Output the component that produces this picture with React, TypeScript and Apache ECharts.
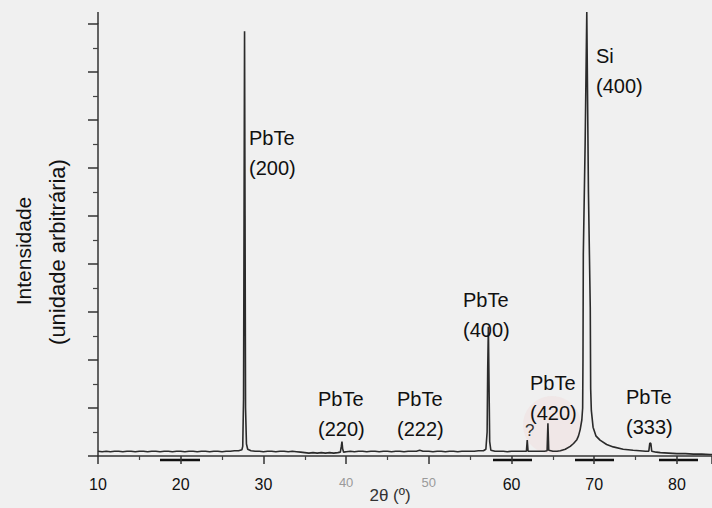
import React, { useEffect, useRef } from "react";
import * as echarts from "echarts";

// 2θ (degrees) and intensity (arbitrary units, 1 unit = one major y tick)
const theta = [
  10, 10.5, 11, 11.5, 12, 12.5, 13, 13.5, 14, 14.5, 15, 15.5, 16, 16.5, 17, 17.5, 18, 18.5, 19, 19.5,
  20, 20.5, 21, 21.5, 22, 22.5, 23, 23.5, 24, 24.5, 25, 25.5, 26, 26.5, 27, 27.4,
  27.5, 27.6, 27.66, 27.72, 27.78, 27.84, 27.95, 28.1, 28.5,
  29, 29.5, 30, 30.5, 31, 31.5, 32, 32.5, 33, 33.5, 34, 34.5, 35, 35.5, 36, 36.5, 37, 37.5, 38, 38.5, 39,
  39.3, 39.42, 39.5, 39.58, 39.7,
  40, 40.5, 41, 41.5, 42, 42.5, 43, 43.5, 44, 44.5, 45, 45.5, 46, 46.5, 47, 47.5, 48, 48.5, 48.9, 49.3,
  50, 50.5, 51, 51.5, 52, 52.5, 53, 53.5, 54, 54.5, 55, 55.5, 56, 56.6, 56.9,
  57.05, 57.12, 57.2, 57.28, 57.36, 57.5, 58,
  58.5, 59, 59.5, 60, 60.5, 61, 61.5, 61.8, 61.9, 62.0, 62.5, 63, 63.5, 64, 64.3, 64.4, 64.5,
  65, 65.5, 65.9, 66.5, 67.1, 67.5, 67.9, 68.1, 68.3, 68.5, 68.6, 68.64, 68.68, 68.9, 69.1, 69.3, 69.52,
  69.57, 69.65, 69.86, 70.2, 70.7, 71.5, 72.3, 73.5, 74.7, 75.5, 76.2,
  76.6, 76.72, 76.85, 76.95, 77.5, 78, 79, 80, 81, 82, 83, 84, 84.24,
];

const intensity = [
  0.1, 0.09, 0.1, 0.09, 0.1, 0.1, 0.09, 0.1, 0.1, 0.09, 0.1, 0.1, 0.09, 0.1, 0.1, 0.09, 0.1, 0.1, 0.09, 0.1,
  0.1, 0.09, 0.1, 0.1, 0.09, 0.1, 0.1, 0.09, 0.1, 0.1, 0.09, 0.1, 0.1, 0.11, 0.11, 0.13,
  0.2, 1.2, 5.0, 8.85, 5.0, 1.0, 0.25, 0.14, 0.11,
  0.1, 0.1, 0.09, 0.1, 0.1, 0.09, 0.1, 0.1, 0.09, 0.1, 0.09, 0.08, 0.07, 0.06, 0.07, 0.06, 0.07, 0.06, 0.07, 0.06, 0.07,
  0.08, 0.2, 0.3, 0.15, 0.08,
  0.09, 0.1, 0.09, 0.1, 0.1, 0.09, 0.1, 0.1, 0.09, 0.1, 0.1, 0.09, 0.1, 0.1, 0.09, 0.1, 0.1, 0.1, 0.12, 0.1,
  0.1, 0.09, 0.1, 0.1, 0.09, 0.1, 0.1, 0.09, 0.1, 0.1, 0.1, 0.1, 0.11, 0.11, 0.14,
  0.5, 1.8, 2.69, 1.5, 0.3, 0.12, 0.1,
  0.1, 0.1, 0.09, 0.1, 0.1, 0.1, 0.1, 0.1, 0.33, 0.1, 0.1, 0.1, 0.1, 0.1, 0.11, 0.68, 0.12,
  0.1, 0.1, 0.11, 0.14, 0.2, 0.26, 0.34, 0.42, 0.55, 0.75, 1.0, 2.0, 4.2, 6.5, 9.25, 5.5, 3.1,
  1.4, 0.95, 0.6, 0.42, 0.33, 0.24, 0.19, 0.14, 0.12, 0.11, 0.1,
  0.1, 0.27, 0.26, 0.1, 0.08, 0.07, 0.06, 0.05, 0.05, 0.04, 0.04, 0.03, 0.03,
];

const xTickLabels = ["10", "20", "30", "40", "50", "60", "70", "80"];
const fadedLabels = ["40", "50"];

const annotations = [
  { text: "PbTe\n(200)", x: 249, y: 123 },
  { text: "Si\n(400)", x: 596, y: 41 },
  { text: "PbTe\n(400)", x: 463, y: 285 },
  { text: "PbTe\n(220)", x: 318, y: 384 },
  { text: "PbTe\n(222)", x: 397, y: 384 },
  { text: "PbTe\n(420)", x: 530, y: 368 },
  { text: "PbTe\n(333)", x: 626, y: 382 },
];

const FONT = '"Liberation Sans", Arial, Helvetica, sans-serif';

export default function App() {
  const ref = useRef<HTMLDivElement>(null);

  useEffect(() => {
    document.body.style.margin = "0";
    const chart = echarts.init(ref.current!, undefined, { renderer: "svg" });
    const data = theta.map((t, i) => [t, intensity[i]]);

    chart.setOption({
      animation: false,
      backgroundColor: "#f0f0f0",
      grid: { left: 98, right: 0, top: 24, bottom: 52 },
      xAxis: {
        type: "value",
        min: 10,
        max: 84.24,
        interval: 10,
        axisLine: { show: true, lineStyle: { color: "#333", width: 1.5 } },
        axisTick: { show: true, length: 8, lineStyle: { color: "#333", width: 1.5 } },
        minorTick: { show: true, splitNumber: 2, length: 4, lineStyle: { color: "#444", width: 1.2 } },
        splitLine: { show: false },
        axisLabel: {
          margin: 20,
          color: "#111",
          fontSize: 16,
          fontFamily: FONT,
          showMaxLabel: false,
          formatter: (v: number) => {
            const s = String(v);
            if (!xTickLabels.includes(s)) return "";
            return fadedLabels.includes(s) ? `{f|${s}}` : s;
          },
          rich: {
            f: { color: "#9a9a9a", fontSize: 13, fontFamily: FONT, padding: [0, 0, 10, 0] },
          },
        },
      },
      yAxis: {
        type: "value",
        min: 0,
        max: 9,
        interval: 1,
        axisLine: { show: true, lineStyle: { color: "#333", width: 1.5 } },
        axisTick: { show: true, length: 10, lineStyle: { color: "#333", width: 1.5 } },
        minorTick: { show: true, splitNumber: 2, length: 5, lineStyle: { color: "#444", width: 1.2 } },
        splitLine: { show: false },
        axisLabel: { show: false },
      },
      series: [
        {
          type: "line",
          data,
          showSymbol: false,
          clip: false,
          z: 3,
          lineStyle: { color: "#2b2b2b", width: 1.6 },
        },
      ],
      graphic: [
        {
          type: "circle",
          z: 0,
          shape: { cx: 552, cy: 425, r: 29 },
          style: { fill: "rgba(240,185,185,0.16)" },
        },
        { type: "line", shape: { x1: 98, y1: 12, x2: 98, y2: 24 }, style: { stroke: "#333", lineWidth: 1.5 } },
        { type: "line", shape: { x1: 160, y1: 460, x2: 200, y2: 460 }, style: { stroke: "#111", lineWidth: 2.5 } },
        { type: "line", shape: { x1: 493, y1: 460, x2: 532, y2: 460 }, style: { stroke: "#111", lineWidth: 2.5 } },
        { type: "line", shape: { x1: 575, y1: 460, x2: 614, y2: 460 }, style: { stroke: "#111", lineWidth: 2.5 } },
        { type: "line", shape: { x1: 659, y1: 460, x2: 698, y2: 460 }, style: { stroke: "#111", lineWidth: 2.5 } },
        ...annotations.map((a) => ({
          type: "text",
          x: a.x,
          y: a.y,
          z: 5,
          style: {
            text: a.text,
            fill: "#111",
            font: `20px ${FONT}`,
            lineHeight: 30,
            textAlign: "left",
            textVerticalAlign: "top",
          },
        })),
        {
          type: "text",
          x: 525,
          y: 430,
          z: 5,
          style: { text: "?", fill: "#333", font: `17px ${FONT}`, textAlign: "left", textVerticalAlign: "middle" },
        },
        {
          type: "text",
          x: 390,
          y: 495,
          z: 5,
          style: { text: "2θ (º)", fill: "#333", font: `17px ${FONT}`, textAlign: "center", textVerticalAlign: "middle" },
        },
        {
          type: "text",
          x: 23.5,
          y: 251,
          rotation: Math.PI / 2,
          z: 5,
          style: { text: "Intensidade", fill: "#111", font: `21px ${FONT}`, textAlign: "center", textVerticalAlign: "middle" },
        },
        {
          type: "text",
          x: 57.5,
          y: 252,
          rotation: Math.PI / 2,
          z: 5,
          style: {
            text: "(unidade arbitrária)",
            fill: "#111",
            font: `22px ${FONT}`,
            textAlign: "center",
            textVerticalAlign: "middle",
          },
        },
      ],
    });

    return () => chart.dispose();
  }, []);

  return (
    <div
      ref={ref}
      style={{ position: "absolute", left: 0, top: 0, width: 712, height: 508 }}
    />
  );
}
